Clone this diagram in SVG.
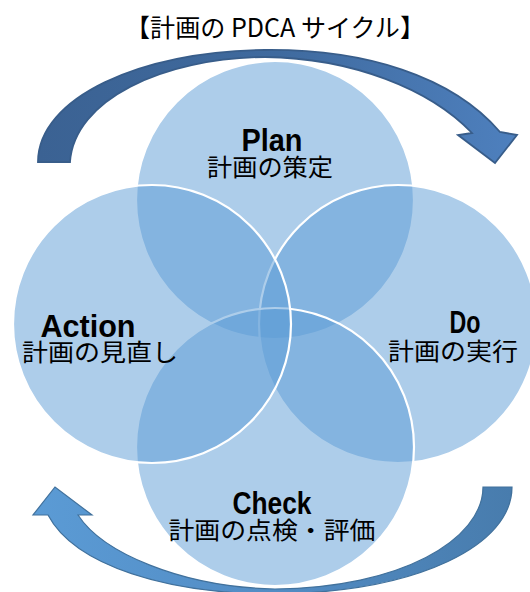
<svg xmlns="http://www.w3.org/2000/svg" width="530" height="592" viewBox="0 0 530 592">
  <defs>
    <linearGradient id="gTop" x1="0" y1="0" x2="1" y2="0">
      <stop offset="0" stop-color="#3B6293"/>
      <stop offset="0.5" stop-color="#3F6A9E"/>
      <stop offset="1" stop-color="#4E80BE"/>
    </linearGradient>
    <linearGradient id="gBot" x1="0" y1="0" x2="1" y2="0">
      <stop offset="0" stop-color="#5B9BD5"/>
      <stop offset="0.5" stop-color="#528CC4"/>
      <stop offset="1" stop-color="#487CAD"/>
    </linearGradient>
    <style>
      .circ { fill: #5B9BD5; fill-opacity: 0.5; stroke: #FFFFFF; stroke-width: 2.2; }
      .en { font-family: "Liberation Sans", Arial, sans-serif; font-weight: bold; font-size: 31px; fill: #000; text-anchor: middle; }
      .jp { font-family: "Noto Sans CJK JP", sans-serif; font-size: 24px; fill: #000; text-anchor: middle; }
      .title { font-family: "Noto Sans CJK JP", sans-serif; font-size: 25px; fill: #000; text-anchor: middle; }
    </style>
  </defs>
  <rect width="530" height="592" fill="#FFFFFF"/>

  <text class="title" x="275" y="37" textLength="300" lengthAdjust="spacingAndGlyphs">【計画の PDCA サイクル】</text>

  <g id="connectors">
    <path id="arrow-top" d="M38,162 C38,98 140,51 265,50 C365,49 452,76 500,132 L517,135 L495,163 L458,135 L472,133 C430,89 352,58 265,57 C162,58 74,100 70,162 Z" fill="url(#gTop)" stroke="#385D8A" stroke-width="1.8" stroke-linejoin="miter"/>
    <path id="arrow-bottom" d="M512,487 C512,545 420,592 275,594 C168,594 75,566 48,515 L33,515 L55,487 L92,515 L78,515 C102,552 180,587 275,589 C400,588 483,540 483,487 Z" fill="url(#gBot)" stroke="#41719C" stroke-width="1.2"/>
  </g>

  <g id="plan">
    <circle class="circ" cx="275" cy="200" r="139"/>
  </g>
  <g id="do">
    <circle class="circ" cx="398" cy="324" r="139"/>
  </g>
  <g id="check">
    <circle class="circ" cx="275" cy="447" r="139"/>
  </g>
  <g id="action">
    <circle class="circ" cx="152" cy="324" r="139"/>
  </g>

  <g id="labels">
    <text class="en" x="272" y="151" textLength="61" lengthAdjust="spacingAndGlyphs">Plan</text>
    <text class="jp" x="270" y="176" textLength="126" lengthAdjust="spacingAndGlyphs">計画の策定</text>
    <text class="en" x="88" y="337" textLength="95" lengthAdjust="spacingAndGlyphs">Action</text>
    <text class="jp" x="100" y="361" textLength="156" lengthAdjust="spacingAndGlyphs">計画の見直し</text>
    <text class="en" x="465" y="333" textLength="31" lengthAdjust="spacingAndGlyphs">Do</text>
    <text class="jp" x="453" y="360" textLength="130" lengthAdjust="spacingAndGlyphs">計画の実行</text>
    <text class="en" x="272" y="514" textLength="79" lengthAdjust="spacingAndGlyphs">Check</text>
    <text class="jp" x="272" y="539" textLength="207" lengthAdjust="spacingAndGlyphs">計画の点検・評価</text>
  </g>
</svg>
